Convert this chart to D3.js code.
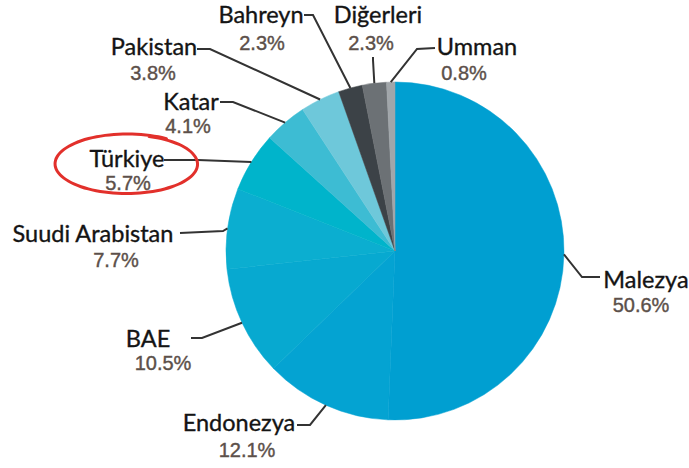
<!DOCTYPE html>
<html>
<head>
<meta charset="utf-8">
<script src="https://cdn.jsdelivr.net/npm/d3@7"></script>
<style>
  html, body { margin: 0; padding: 0; background: #fff; }
  svg { display: block; }
</style>
</head>
<body>
<div id="vis"></div>
<script>
// Pie of shares by country, clockwise from 12 o'clock. Türkiye circled by hand in red.

const COUNTRIES = ["Malezya", "Endonezya", "BAE", "Suudi Arabistan", "Türkiye",
                   "Katar", "Pakistan", "Bahreyn", "Diğerleri", "Umman"];
const SHARES    = [50.6, 12.1, 10.5, 7.7, 5.7, 4.1, 3.8, 2.3, 2.3, 0.8];
const COLORS    = ["#009fd1", "#04a3d2", "#07a9d0", "#0baed0", "#00b4cb",
                   "#3dbcd3", "#6ec8da", "#3c4247", "#6c7175", "#a1a6aa"];

// label layout (label centre x / baseline y, percent centre x / baseline y, leader elbow + end)
const LAYOUT = [
  { lx: 646, ly: 288, px: 641, py: 312, elbow: [582, 277], end: [600, 277] },
  { lx: 239, ly: 431, px: 247, py: 457, elbow: [310, 425], end: [297, 425] },
  { lx: 148, ly: 347, px: 163, py: 370, elbow: [202, 338], end: [191, 338] },
  { lx:  93, ly: 242, px: 116, py: 267, elbow: [223, 231], end: [180, 233] },
  { lx: 127, ly: 167, px: 128, py: 190, elbow: [198, 160], end: [164, 160] },
  { lx: 191, ly: 110, px: 188, py: 133, elbow: [233, 102], end: [220, 102] },
  { lx: 154, ly:  55, px: 153, py:  80, elbow: [210,  49], end: [197,  49] },
  { lx: 261, ly:  23, px: 262, py:  50, elbow: [313,  15], end: [304,  15] },
  { lx: 378, ly:  23, px: 371, py:  50, elbow: [373,  60], end: [373,  57] },
  { lx: 477, ly:  55, px: 464, py:  80, elbow: [417,  49], end: [435,  48] },
];

const W = 689, H = 468;
const cx = 395, cy = 251, R = 169;

const svg = d3.select("#vis").append("svg").attr("width", W).attr("height", H);

const data = COUNTRIES.map((name, i) => ({ name, value: SHARES[i], color: COLORS[i], lay: LAYOUT[i] }));

const pie = d3.pie().value(d => d.value).sort(null);
const arc = d3.arc().innerRadius(0).outerRadius(R);
const edge = d3.arc().innerRadius(R).outerRadius(R);

const arcs = pie(data);
const g = svg.append("g").attr("transform", `translate(${cx},${cy})`);

g.selectAll("path.slice")
  .data(arcs)
  .join("path")
  .attr("class", "slice")
  .attr("d", arc)
  .attr("fill", d => d.data.color)
  .attr("stroke", d => d.data.color)
  .attr("stroke-width", 0.5);

// leader lines from slice edge (mid angle) through elbow to label
arcs.forEach(a => {
  const [ex, ey] = edge.centroid(a);
  const { elbow, end } = a.data.lay;
  svg.append("path")
    .attr("d", d3.line()([[cx + ex, cy + ey], elbow, end]))
    .attr("fill", "none")
    .attr("stroke", "#333")
    .attr("stroke-width", 2);
});

const labels = svg.append("g");
data.forEach(d => {
  labels.append("text")
    .attr("x", d.lay.lx).attr("y", d.lay.ly)
    .attr("text-anchor", "middle")
    .style("font-family", "Lato, 'Open Sans', sans-serif")
    .style("font-size", "23.5px")
    .style("fill", "#141414")
    .style("stroke", "#141414").style("stroke-width", 0.35)
    .text(d.name);
  labels.append("text")
    .attr("x", d.lay.px).attr("y", d.lay.py)
    .attr("text-anchor", "middle")
    .style("font-family", "'Liberation Sans', Arial, sans-serif")
    .style("font-size", "20px")
    .style("fill", "#5c504a")
    .style("stroke", "#5c504a").style("stroke-width", 0.4)
    .text(d3.format(".1f")(d.value) + "%");
});

// hand-drawn red ring around Türkiye
const ring = d3.range(0, 1.06, 0.02).map(t => {
  const ang = -1.25 + t * 2 * Math.PI;
  const wob = 1 + 0.04 * t;
  return [127 + 70 * wob * Math.cos(ang), 164 + 29 * wob * Math.sin(ang)];
});
svg.append("path")
  .attr("d", d3.line().curve(d3.curveCatmullRom)(ring))
  .attr("fill", "none")
  .attr("stroke", "#e2302b")
  .attr("stroke-width", 3)
  .attr("stroke-linecap", "round");
</script>
</body>
</html>
